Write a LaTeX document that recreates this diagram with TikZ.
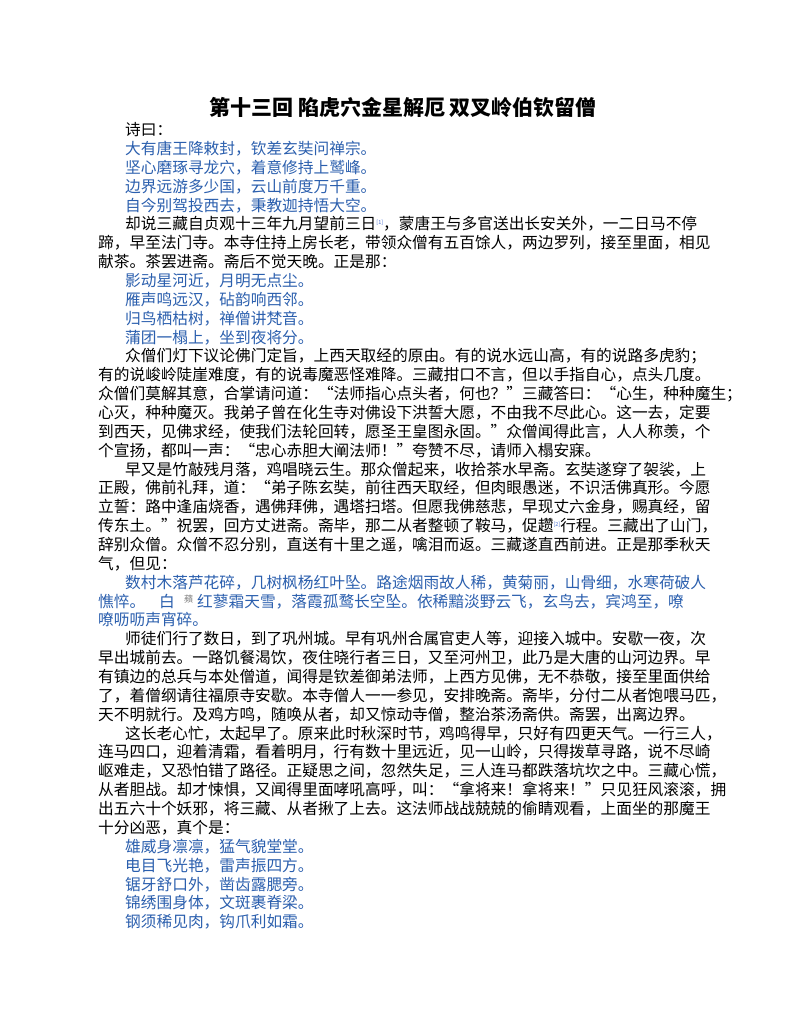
\documentclass[tikz,border=0pt]{standalone}
\usepackage{fontspec}
\setmainfont{Noto Sans CJK SC}
\XeTeXlinebreaklocale "zh"
\XeTeXlinebreakskip=0pt plus 3pt
\definecolor{poem}{HTML}{2B5FAE}
\definecolor{note}{HTML}{4A6FD0}
\newcommand\fullline[4]{\node[anchor=base west,inner sep=0pt,text=#3] at (#1,{-(130+18.86*#2+5.6)}) {\hbox to \dimexpr712pt-#1pt\relax{#4}};}
\newcommand\natline[4]{\node[anchor=base west,inner sep=0pt,text=#3] at (#1,{-(130+18.86*#2+5.6)}) {#4};}
\newcommand\fnm[1]{{\fontsize{5.5}{6}\selectfont\color{note}\raisebox{5pt}{[#1]}}}
\begin{document}
\begin{tikzpicture}[x=1pt,y=1pt,font=\fontsize{15.7}{18}\selectfont]
\useasboundingbox[fill=white] (0,0) rectangle (800,-1035);
\node[inner sep=0pt,font=\fontsize{21}{24}\selectfont\bfseries] (title) at (403,-107) {第十三回 陷虎穴金星解厄 双叉岭伯钦留僧};
\natline{125}{0}{black}{诗曰：}
\natline{125}{1}{poem}{大有唐王降敕封，钦差玄奘问禅宗。}
\natline{125}{2}{poem}{坚心磨琢寻龙穴，着意修持上鹫峰。}
\natline{125}{3}{poem}{边界远游多少国，云山前度万千重。}
\natline{125}{4}{poem}{自今别驾投西去，秉教迦持悟大空。}
\fullline{125}{5}{black}{却说三藏自贞观十三年九月望前三日\fnm{1}，蒙唐王与多官送出长安关外，一二日马不停}
\fullline{98}{6}{black}{蹄，早至法门寺。本寺住持上房长老，带领众僧有五百馀人，两边罗列，接至里面，相见}
\natline{98}{7}{black}{献茶。茶罢进斋。斋后不觉天晚。正是那：}
\natline{125}{8}{poem}{影动星河近，月明无点尘。}
\natline{125}{9}{poem}{雁声鸣远汉，砧韵响西邻。}
\natline{125}{10}{poem}{归鸟栖枯树，禅僧讲梵音。}
\natline{125}{11}{poem}{蒲团一榻上，坐到夜将分。}
\fullline{125}{12}{black}{众僧们灯下议论佛门定旨，上西天取经的原由。有的说水远山高，有的说路多虎豹；}
\fullline{98}{13}{black}{有的说峻岭陡崖难度，有的说毒魔恶怪难降。三藏拑口不言，但以手指自心，点头几度。}
\fullline{98}{14}{black}{众僧们莫解其意，合掌请问道：“法师指心点头者，何也？”三藏答曰：“心生，种种魔生；}
\fullline{98}{15}{black}{心灭，种种魔灭。我弟子曾在化生寺对佛设下洪誓大愿，不由我不尽此心。这一去，定要}
\fullline{98}{16}{black}{到西天，见佛求经，使我们法轮回转，愿圣王皇图永固。”众僧闻得此言，人人称羡，个}
\natline{98}{17}{black}{个宣扬，都叫一声：“忠心赤胆大阐法师！”夸赞不尽，请师入榻安寐。}
\fullline{125}{18}{black}{早又是竹敲残月落，鸡唱晓云生。那众僧起来，收拾茶水早斋。玄奘遂穿了袈裟，上}
\fullline{98}{19}{black}{正殿，佛前礼拜，道：“弟子陈玄奘，前往西天取经，但肉眼愚迷，不识活佛真形。今愿}
\fullline{98}{20}{black}{立誓：路中逢庙烧香，遇佛拜佛，遇塔扫塔。但愿我佛慈悲，早现丈六金身，赐真经，留}
\fullline{98}{21}{black}{传东土。”祝罢，回方丈进斋。斋毕，那二从者整顿了鞍马，促趱\fnm{2}行程。三藏出了山门，}
\fullline{98}{22}{black}{辞别众僧。众僧不忍分别，直送有十里之遥，噙泪而返。三藏遂直西前进。正是那季秋天}
\natline{98}{23}{black}{气，但见：}
\fullline{125}{24}{poem}{数村木落芦花碎，几树枫杨红叶坠。路途烟雨故人稀，黄菊丽，山骨细，水寒荷破人}
\natline{98}{25}{poem}{憔悴。}
\natline{159}{25}{poem}{白}
\node[anchor=base west,inner sep=0pt,text=gray,font=\fontsize{9}{10}\selectfont] (ping) at (184,{-(130+18.86*25+1)}) {蘋};
\fullline{197}{25}{poem}{红蓼霜天雪，落霞孤鹜长空坠。依稀黯淡野云飞，玄鸟去，宾鸿至，嘹}
\natline{98}{26}{poem}{嘹呖呖声宵碎。}
\fullline{125}{27}{black}{师徒们行了数日，到了巩州城。早有巩州合属官吏人等，迎接入城中。安歇一夜，次}
\fullline{98}{28}{black}{早出城前去。一路饥餐渴饮，夜住晓行者三日，又至河州卫，此乃是大唐的山河边界。早}
\fullline{98}{29}{black}{有镇边的总兵与本处僧道，闻得是钦差御弟法师，上西方见佛，无不恭敬，接至里面供给}
\fullline{98}{30}{black}{了，着僧纲请往福原寺安歇。本寺僧人一一参见，安排晚斋。斋毕，分付二从者饱喂马匹，}
\natline{98}{31}{black}{天不明就行。及鸡方鸣，随唤从者，却又惊动寺僧，整治茶汤斋供。斋罢，出离边界。}
\fullline{125}{32}{black}{这长老心忙，太起早了。原来此时秋深时节，鸡鸣得早，只好有四更天气。一行三人，}
\fullline{98}{33}{black}{连马四口，迎着清霜，看着明月，行有数十里远近，见一山岭，只得拨草寻路，说不尽崎}
\fullline{98}{34}{black}{岖难走，又恐怕错了路径。正疑思之间，忽然失足，三人连马都跌落坑坎之中。三藏心慌，}
\fullline{98}{35}{black}{从者胆战。却才悚惧，又闻得里面哮吼高呼，叫：“拿将来！拿将来！”只见狂风滚滚，拥}
\fullline{98}{36}{black}{出五六十个妖邪，将三藏、从者揪了上去。这法师战战兢兢的偷睛观看，上面坐的那魔王}
\natline{98}{37}{black}{十分凶恶，真个是：}
\natline{125}{38}{poem}{雄威身凛凛，猛气貌堂堂。}
\natline{125}{39}{poem}{电目飞光艳，雷声振四方。}
\natline{125}{40}{poem}{锯牙舒口外，凿齿露腮旁。}
\natline{125}{41}{poem}{锦绣围身体，文斑裹脊梁。}
\natline{125}{42}{poem}{钢须稀见肉，钩爪利如霜。}
\end{tikzpicture}
\end{document}
